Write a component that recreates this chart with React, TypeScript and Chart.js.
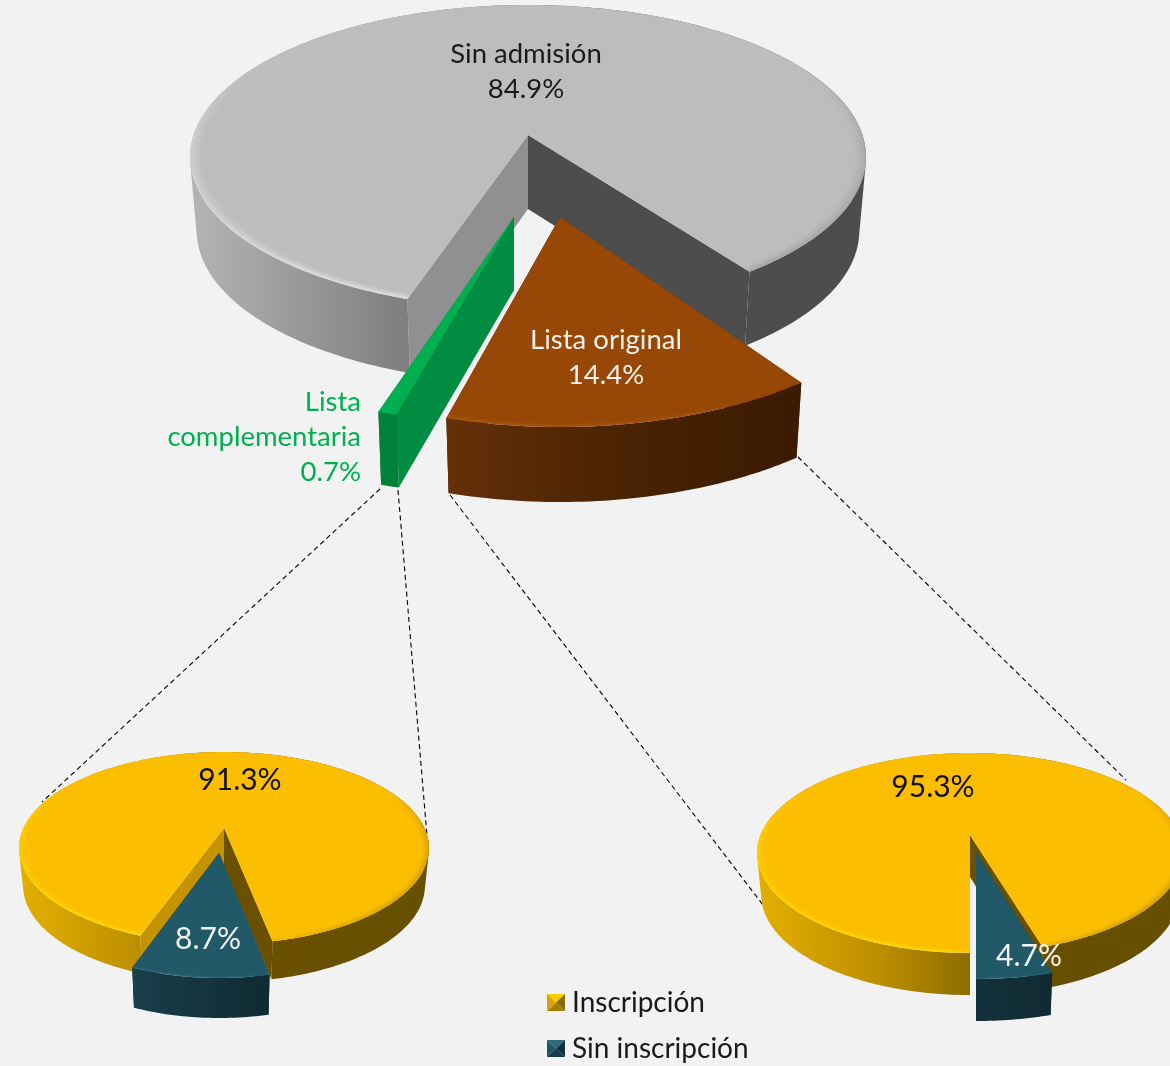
import React, { useEffect, useRef } from "react";
import { Chart, registerables } from "chart.js";

Chart.register(...registerables);

const mainCategories = ["Sin admisión", "Lista original", "Lista complementaria"];
const mainValues = [84.9, 14.4, 0.7];
const enrolCategories = ["Inscripción", "Sin inscripción"];
const complementaryValues = [91.3, 8.7];
const originalValues = [95.3, 4.7];

const FONT = "Lato, Carlito, sans-serif";
const W = 1170;
const H = 1066;
type Stop = [number, string];
type Geo = {
  apex: [number, number];
  center: [number, number];
  rx: number;
  ry: number;
  depth: number;
  top: string;
  wall: Stop[];
  faceStart: string;
  faceEnd: string;
  rim: Stop[];
  rimW: number;
  rimA: number;
};
type Lab = { x: number; y: number; color: string; size: number; align?: CanvasTextAlign; name?: boolean; wrap?: boolean };

const mainGeo: Geo[] = [
  {
    apex: [528, 135], center: [528, 157], rx: 338, ry: 152, depth: 74, top: "#BDBDBD",
    wall: [[190, "#B4B4B4"], [405, "#7F7F7F"], [560, "#5A5A5A"], [700, "#4D4D4D"], [870, "#4D4D4D"]],
    faceStart: "#909090", faceEnd: "#4D4D4D",
    rim: [[190, "#FFFFFF"], [410, "#FFFFFF"], [620, "#BDBDBD"], [740, "#8A8A8A"], [870, "#7A7A7A"]],
    rimW: 16, rimA: 0.22,
  },
  {
    apex: [560, 217], center: [560, 240.5], rx: 373, ry: 186.5, depth: 75, top: "#974706",
    wall: [[447, "#653008"], [620, "#4A2303"], [800, "#3B1B02"]],
    faceStart: "#5A2A04", faceEnd: "#3B1B02",
    rim: [[447, "#C06A20"], [700, "#AE5A14"], [805, "#7A3A08"]],
    rimW: 12, rimA: 0.2,
  },
  {
    apex: [514, 217], center: [514, 233], rx: 400, ry: 190, depth: 73, top: "#00B050",
    wall: [[378, "#008238"], [400, "#007F38"]],
    faceStart: "#008C41", faceEnd: "#008C41",
    rim: [[378, "#00B050"], [400, "#00B050"]],
    rimW: 1, rimA: 0,
  },
];

const leftGeo: Geo[] = [
  {
    apex: [224, 828], center: [224, 848], rx: 205, ry: 96, depth: 38, top: "#FCBE00",
    wall: [[19, "#E3B000"], [140, "#BC8E00"], [270, "#6B5000"], [430, "#665000"]],
    faceStart: "#C49400", faceEnd: "#6B5000",
    rim: [[19, "#FFE600"], [170, "#FFE800"], [300, "#E0A800"], [430, "#A07800"]],
    rimW: 11, rimA: 0.3,
  },
  {
    apex: [219, 853], center: [219, 888], rx: 187, ry: 90, depth: 40, top: "#215968",
    wall: [[134, "#183F4B"], [270, "#102A32"]],
    faceStart: "#183F4B", faceEnd: "#102A32",
    rim: [[134, "#4D8796"], [270, "#2D6B7B"]],
    rimW: 5, rimA: 0.25,
  },
];

const rightGeo: Geo[] = [
  {
    apex: [970, 835], center: [970, 853], rx: 213, ry: 100, depth: 42, top: "#FCBE00",
    wall: [[757, "#E3B000"], [880, "#BC8E00"], [970, "#8E6D00"], [1050, "#665000"], [W, "#665000"]],
    faceStart: "#C49400", faceEnd: "#6B5000",
    rim: [[757, "#FFE600"], [930, "#FFE800"], [1050, "#E0A800"], [W, "#A07800"]],
    rimW: 11, rimA: 0.3,
  },
  {
    apex: [976, 852], center: [976, 863], rx: 240, ry: 116, depth: 42, top: "#215968",
    wall: [[976, "#14323C"], [1052, "#102A32"]],
    faceStart: "#183F4B", faceEnd: "#102A32",
    rim: [[976, "#3C7585"], [1052, "#2D6B7B"]],
    rimW: 4, rimA: 0.25,
  },
];

const mainLabels: Lab[] = [
  { x: 526, y: 54, color: "#1A1A1A", size: 27.5, name: true },
  { x: 606, y: 340, color: "#F4F0EA", size: 27.5, name: true },
  { x: 361, y: 402, color: "#00B050", size: 27.5, align: "right", name: true, wrap: true },
];
const leftLabels: Lab[] = [
  { x: 240, y: 780, color: "#111111", size: 30 },
  { x: 208, y: 939, color: "#F2F2F2", size: 30 },
];
const rightLabels: Lab[] = [
  { x: 933, y: 787, color: "#111111", size: 30 },
  { x: 1029, y: 956, color: "#F2F2F2", size: 30 },
];

const connectors: [number, number, number, number][] = [
  [380, 489, 42, 802],
  [398, 490, 427, 836],
  [450, 495, 763, 905],
  [798, 457, 1126, 780],
];

const legendRows = [
  { x: 547, y: 994, tones: ["#FFD000", "#8B6C10", "#A08000", "#D9A400"] },
  { x: 547, y: 1040, tones: ["#2B6B7D", "#12303A", "#163C48", "#1E5565"] },
];

function hit(ax: number, ay: number, cx: number, cy: number, rx: number, ry: number, a: number) {
  const dx = Math.cos(a) * rx;
  const dy = Math.sin(a) * ry;
  const ox = (ax - cx) / rx;
  const oy = (ay - cy) / ry;
  const ux = dx / rx;
  const uy = dy / ry;
  const A = ux * ux + uy * uy;
  const B = 2 * (ox * ux + oy * uy);
  const C = ox * ox + oy * oy - 1;
  const t = (-B + Math.sqrt(B * B - 4 * A * C)) / (2 * A);
  return [ax + dx * t, ay + dy * t];
}

function angleAt(s: number, e: number, i: number, n: number) {
  return s + ((e - s) * i) / n;
}

function stepsFor(s: number, e: number) {
  return Math.max(2, Math.ceil(((e - s) * 180) / Math.PI));
}

function arcPoints(g: Geo, s: number, e: number, inset: number, drop: number, taper: number) {
  const rx = g.rx * (1 - taper) - inset;
  const ry = g.ry - inset * (g.ry / g.rx);
  const n = stepsFor(s, e);
  const pts: number[][] = [];
  for (let i = 0; i <= n; i++) {
    const p = hit(g.apex[0], g.apex[1], g.center[0], g.center[1], rx, ry, angleAt(s, e, i, n));
    pts.push([p[0], p[1] + drop]);
  }
  return pts;
}

function hGrad(ctx: CanvasRenderingContext2D, stops: Stop[]) {
  const gr = ctx.createLinearGradient(0, 0, W, 0);
  stops.forEach(([x, c]) => gr.addColorStop(Math.min(1, Math.max(0, x / W)), c));
  return gr;
}

function addPoly(ctx: CanvasRenderingContext2D, pts: number[][]) {
  pts.forEach((p, i) => (i ? ctx.lineTo(p[0], p[1]) : ctx.moveTo(p[0], p[1])));
  ctx.closePath();
}

function poly(ctx: CanvasRenderingContext2D, pts: number[][]) {
  ctx.beginPath();
  addPoly(ctx, pts);
}

function signedArea(pts: number[][]) {
  let sum = 0;
  pts.forEach((p, i) => {
    const q = pts[(i + 1) % pts.length];
    sum += p[0] * q[1] - q[0] * p[1];
  });
  return sum;
}

function drawSlice(ctx: CanvasRenderingContext2D, g: Geo, s: number, e: number) {
  const top = arcPoints(g, s, e, 0, 0, 0);
  const bot = arcPoints(g, s, e, 0, g.depth, 0.02);
  const a = g.apex;
  const ab = [a[0], a[1] + g.depth];
  // cut faces
  ctx.fillStyle = g.faceStart;
  poly(ctx, [a, top[0], bot[0], ab]);
  ctx.fill();
  ctx.fillStyle = g.faceEnd;
  poly(ctx, [a, top[top.length - 1], bot[bot.length - 1], ab]);
  ctx.fill();
  // outer wall: one path of same-winding facets, so the tapered sides join the top's rim
  ctx.fillStyle = hGrad(ctx, g.wall);
  ctx.beginPath();
  for (let i = 0; i < top.length - 1; i++) {
    const q = [top[i], top[i + 1], bot[i + 1], bot[i]];
    addPoly(ctx, signedArea(q) < 0 ? q.reverse() : q);
  }
  ctx.fill("nonzero");
  // top
  ctx.fillStyle = g.top;
  poly(ctx, [a, ...top]);
  ctx.fill();
  // bevel, fading out along the far edge
  if (g.rimA > 0) {
    ctx.save();
    poly(ctx, [a, ...top]);
    ctx.clip();
    ctx.strokeStyle = hGrad(ctx, g.rim);
    ctx.lineWidth = 1.6;
    const n = stepsFor(s, e);
    for (let t = g.rimW; t >= 0; t -= 1) {
      const pts = arcPoints(g, s, e, t, 0, 0);
      const f = (g.rimW - t) / g.rimW;
      for (let i = 0; i < n; i++) {
        const sa = Math.sin(angleAt(s, e, i + 0.5, n));
        const fade = Math.min(1, Math.max(0, (sa + 0.45) / 0.55));
        if (fade <= 0) continue;
        ctx.globalAlpha = f * f * g.rimA * fade;
        ctx.beginPath();
        ctx.moveTo(pts[i][0], pts[i][1]);
        ctx.lineTo(pts[i + 1][0], pts[i + 1][1]);
        ctx.stroke();
      }
    }
    ctx.restore();
  }
}

function makePlugin(geos: Geo[], labels: Lab[], extra?: (c: Chart) => void, under?: (c: Chart) => void) {
  return {
    id: "pie3d",
    beforeDatasetsDraw(chart: Chart) {
      const ctx = chart.ctx;
      under && under(chart);
      const meta = chart.getDatasetMeta(0);
      meta.data.forEach((arc: any, i: number) => {
        drawSlice(ctx, geos[i], arc.startAngle, arc.endAngle);
      });
      return false;
    },
    afterDraw(chart: Chart) {
      const ctx = chart.ctx;
      ctx.save();
      ctx.textBaseline = "middle";
      const vals = chart.data.datasets[0].data as number[];
      const cats = chart.data.labels as string[];
      labels.forEach((l, i) => {
        const lines: string[] = [];
        if (l.name) lines.push(...(l.wrap ? cats[i].split(" ") : [cats[i]]));
        lines.push(`${vals[i].toFixed(1)}%`);
        ctx.font = `${l.size}px ${FONT}`;
        ctx.fillStyle = l.color;
        ctx.textAlign = l.align || "center";
        lines.forEach((t, k) => ctx.fillText(t, l.x, l.y + k * 35));
      });
      ctx.restore();
      extra && extra(chart);
    },
  };
}

function drawConnectors(chart: Chart) {
  const ctx = chart.ctx;
  ctx.save();
  ctx.strokeStyle = "#000000";
  ctx.lineWidth = 1.1;
  ctx.setLineDash([5, 3.5]);
  connectors.forEach(([x0, y0, x1, y1]) => {
    ctx.beginPath();
    ctx.moveTo(x0, y0);
    ctx.lineTo(x1, y1);
    ctx.stroke();
  });
  ctx.restore();
}

function drawLegend(chart: Chart) {
  const ctx = chart.ctx;
  const cats = chart.data.labels as string[];
  ctx.save();
  ctx.font = `28px ${FONT}`;
  ctx.textBaseline = "middle";
  ctx.textAlign = "left";
  legendRows.forEach((r, i) => {
    const w = 18;
    const h = 17;
    const cx = r.x + w / 2;
    const cy = r.y + h / 2;
    const corners = [[r.x, r.y], [r.x + w, r.y], [r.x + w, r.y + h], [r.x, r.y + h]];
    r.tones.forEach((tone, k) => {
      ctx.fillStyle = tone;
      poly(ctx, [corners[k], corners[(k + 1) % 4], [cx, cy]]);
      ctx.fill();
    });
    ctx.fillStyle = "#1A1A1A";
    ctx.fillText(cats[i], 572, r.y + h / 2);
  });
  ctx.restore();
}

function makeChart(
  canvas: HTMLCanvasElement,
  labels: string[],
  values: number[],
  rotation: number,
  geos: Geo[],
  texts: Lab[],
  extra?: (c: Chart) => void,
  under?: (c: Chart) => void
) {
  return new Chart(canvas, {
    type: "pie",
    data: {
      labels,
      datasets: [{ data: values, backgroundColor: geos.map((g) => g.top), borderWidth: 0 }],
    },
    options: {
      responsive: false,
      animation: false,
      rotation,
      plugins: { legend: { display: false }, tooltip: { enabled: false } },
    },
    plugins: [makePlugin(geos, texts, extra, under)],
  } as any);
}

const layer: React.CSSProperties = { position: "absolute", left: 0, top: 0, display: "block" };

export default function App() {
  const a = useRef<HTMLCanvasElement>(null);
  const b = useRef<HTMLCanvasElement>(null);
  const c = useRef<HTMLCanvasElement>(null);
  useEffect(() => {
    document.body.style.margin = "0";
    const charts = [
      makeChart(a.current!, mainCategories, mainValues, 198.3, mainGeo, mainLabels, undefined, drawConnectors),
      makeChart(b.current!, enrolCategories, complementaryValues, 200, leftGeo, leftLabels),
      makeChart(c.current!, enrolCategories, originalValues, 180, rightGeo, rightLabels, drawLegend),
    ];
    return () => charts.forEach((ch) => ch.destroy());
  }, []);
  return (
    <div style={{ position: "absolute", left: 0, top: 0, width: W, height: H, background: "#F2F2F2", overflow: "hidden" }}>
      <canvas ref={a} width={W} height={H} style={layer} />
      <canvas ref={b} width={W} height={H} style={layer} />
      <canvas ref={c} width={W} height={H} style={layer} />
    </div>
  );
}
